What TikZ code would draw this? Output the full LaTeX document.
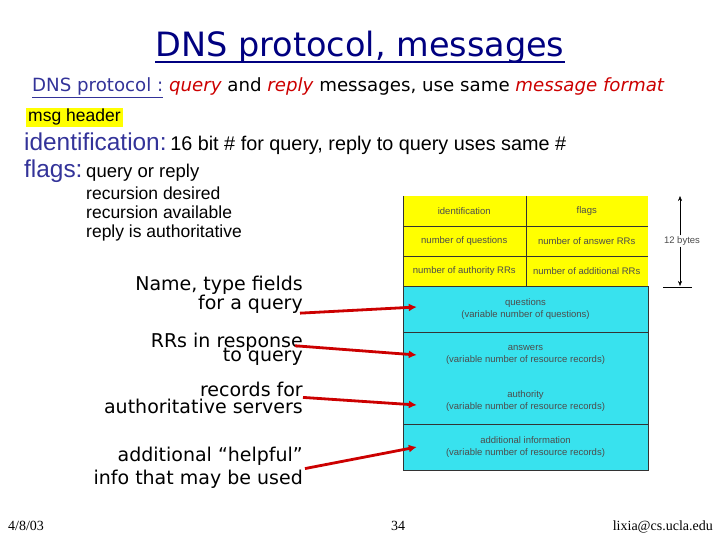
\documentclass[tikz,border=0pt]{standalone}
\usepackage{fontspec}
\setmainfont{Liberation Sans}
\newfontfamily\comicfont{DejaVu Sans}
\newfontfamily\footfont{Liberation Serif}
\usetikzlibrary{arrows.meta,calc}
\definecolor{cTitle}{HTML}{000080}
\definecolor{cBlue}{HTML}{333399}
\definecolor{cRed}{HTML}{CC0000}
\definecolor{cHdr}{HTML}{FFFF00}
\definecolor{cRR}{HTML}{38E2EE}

\begin{document}
\begin{tikzpicture}[x=1pt,y=-1pt,>=Stealth,
  hdr/.style={fill=cHdr,minimum width=122.5pt,minimum height=30pt,inner sep=0pt,font=\fontsize{9.5}{10}\selectfont,text=black!70},
  rr/.style={fill=cRR,minimum width=245pt,minimum height=46pt,inner sep=0pt,align=center,font=\fontsize{9.5}{12.5}\selectfont,text=black!70},
  note/.style={font=\comicfont\fontsize{19}{18}\selectfont,align=right,inner sep=0pt,anchor=base east},
  point/.style={cRed,line width=2.8pt,-{Latex[length=8pt,width=8pt]}},
  txt/.style={anchor=base west,inner sep=0pt}]
\useasboundingbox (0,0) rectangle (720,540);
% ---------- title ----------
\node[anchor=base,inner sep=0pt,font=\comicfont\fontsize{33.5}{38}\selectfont,text=cTitle] (title) at (360,57) {DNS protocol, messages};
\draw[cTitle,line width=2pt] ([yshift=-5pt]title.base west) -- ([yshift=-5pt]title.base east);
\node[txt,font=\comicfont\fontsize{18.2}{21}\selectfont] (sub) at (32,92) {%
  {\color{cBlue}\underline{DNS protocol :}} {\color{cRed}\itshape query} and {\color{cRed}\itshape reply} messages, use same {\color{cRed}\itshape message format}};
% ---------- header fields ----------
\node[txt,fill=cHdr,inner xsep=2pt,inner ysep=1.5pt,text height=12.5pt,text depth=4pt,font=\fontsize{17.5}{19}\selectfont] (msg) at (26,122) {msg header};
\node[txt] (ident) at (24,151) {{\color{cBlue}\fontsize{24.4}{26}\selectfont identification:} \fontsize{19.8}{22}\selectfont 16 bit \# for query, reply to query uses same \#};
\node[txt] (flags) at (24,178) {{\color{cBlue}\fontsize{24.4}{26}\selectfont flags:} \fontsize{18.5}{20}\selectfont query or reply};
\node[txt,align=left,font=\fontsize{17.5}{19}\selectfont] (bits) at (86,237) {recursion desired\\recursion available\\reply is authoritative};
% ---------- message format ----------
\node[hdr] (hid) at (464.25,211) {identification};
\node[hdr] (hfl) at (586.75,211) {flags};
\node[hdr] (hnq) at (464.25,241) {number of questions};
\node[hdr] (hna) at (586.75,241) {number of answer RRs};
\node[hdr] (hns) at (464.25,271) {number of authority RRs};
\node[hdr] (hnd) at (586.75,271) {number of additional RRs};
\node[rr] (fq) at (525.5,309) {questions\\(variable number of questions)};
\node[rr] (fa) at (525.5,355) {answers\\(variable number of resource records)};
\node[rr] (fu) at (525.5,401) {authority\\(variable number of resource records)};
\node[rr] (fi) at (525.5,447) {additional information\\(variable number of resource records)};
\draw[black!80] (hid.north west) -- (fi.south west) -- (fi.south east) -- (fq.north east);
\draw[black!80] (hid.north east) -- (hns.south east);
\draw[black!80] (hid.south west) -- (hfl.south east);
\draw[black!80] (hnq.south west) -- (hna.south east);
\draw[black!80] (hns.south west) -- (hnd.south east);
\draw[black!80] (fq.south west) -- (fq.south east);
\draw[black!80] (fu.south west) -- (fu.south east);
% 12 bytes
\node[font=\fontsize{9.5}{10}\selectfont,text=black!70,fill=white,inner sep=1pt] (bytes) at (682,241) {12 bytes};
\coordinate (btop) at (680,196);
\coordinate (bbot) at (680,286);
\coordinate (bl) at (663,287);
\coordinate (br) at (692,287);
\draw[-{Stealth[length=5pt,width=4pt]}] (bytes.north-|btop) -- (btop);
\draw[-{Stealth[length=5pt,width=4pt]}] (bytes.south-|bbot) -- (bbot);
\draw (bl) -- (br);
% ---------- notes ----------
\node[note] (lq) at (303,309) {Name, type fields\\[-1pt]for a query};
\node[note] (lr) at (303,361) {RRs in response\\[-4pt]to query};
\node[note] (lu) at (303,413) {records for\\[-1pt]authoritative servers};
\node[note] (ld) at (303,484) {additional “helpful”\\[3pt]info that may be used};
\draw[point] ([xshift=-3pt]lq.south east) -- ([xshift=14pt,yshift=2pt]fq.west);
\draw[point] ([xshift=-8pt,yshift=3pt]lr.east) -- ([xshift=14pt]fa.west);
\draw[point] (lu.east) -- ([xshift=14pt,yshift=-4pt]fu.west);
\draw[point] ([xshift=2pt,yshift=-1pt]ld.east) -- ([xshift=14pt]fi.west);
% ---------- footer ----------
\node[txt,font=\footfont\fontsize{14}{16}\selectfont] (date) at (8,530) {4/8/03};
\node[anchor=base,inner sep=0pt,font=\footfont\fontsize{14}{16}\selectfont] (page) at (398,530) {34};
\node[anchor=base east,inner sep=0pt,font=\footfont\fontsize{14}{16}\selectfont] (mail) at (713,530) {lixia@cs.ucla.edu};
\end{tikzpicture}
\end{document}
